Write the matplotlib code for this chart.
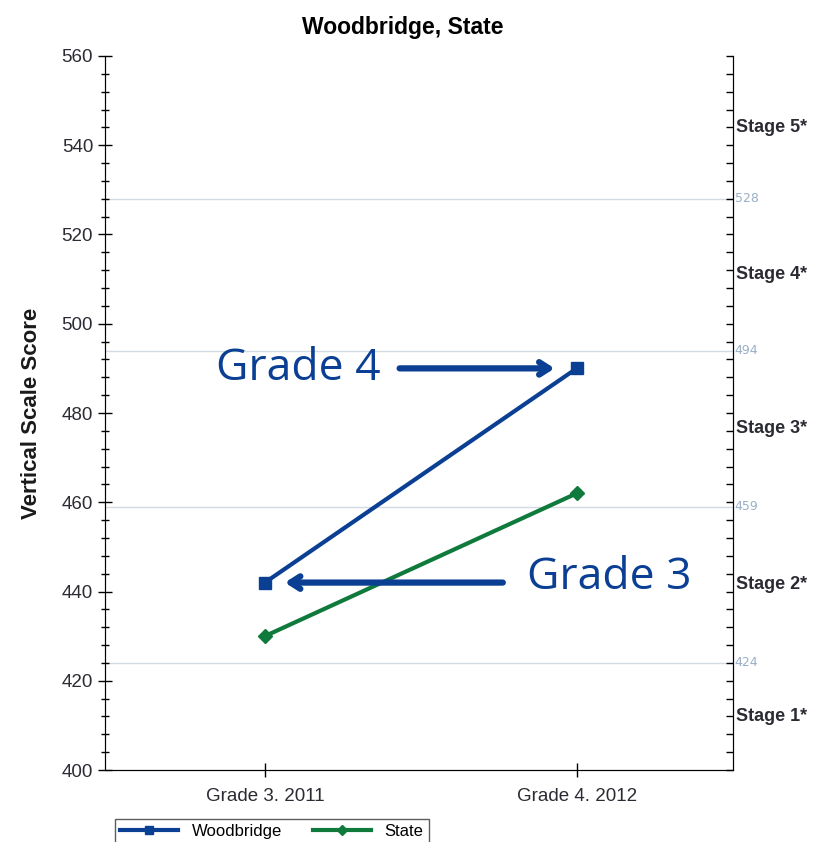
import matplotlib
matplotlib.use("Agg")
import matplotlib.pyplot as plt
from matplotlib.ticker import MultipleLocator
from matplotlib.lines import Line2D

categories = ["Grade 3. 2011", "Grade 4. 2012"]
woodbridge = [442, 490]
state = [430, 462]
cut_scores = [424, 459, 494, 528]
stage_labels = ["Stage 1*", "Stage 2*", "Stage 3*", "Stage 4*", "Stage 5*"]
stage_bounds = [400, 424, 459, 494, 528, 560]

BLUE = "#0a3f94"
GREEN = "#0f7a3c"
TXT = "#2b2b33"
FONT = "Liberation Sans"

fig = plt.figure(figsize=(8.26, 8.42), dpi=100)
ax = fig.add_axes([0.127, 0.0855, 0.76, 0.848])

x = list(range(len(categories)))
ax.plot(x, woodbridge, color=BLUE, lw=3, marker="s", ms=8, label="Woodbridge", zorder=3)
ax.plot(x, state, color=GREEN, lw=3, marker="D", ms=7, label="State", zorder=3)

for c in cut_scores:
    ax.axhline(c, color="#d3dae4", lw=1, zorder=1)

ax.set_xlim(-0.513, 1.5)
ax.set_ylim(400, 560)
ax.set_xticks(x)
ax.set_xticklabels(categories, fontsize=13.5, color=TXT, family=FONT)
ax.yaxis.set_major_locator(MultipleLocator(20))
ax.yaxis.set_minor_locator(MultipleLocator(4))
ax.tick_params(axis="y", which="major", direction="inout", length=10, width=1,
               labelsize=13.5, labelcolor=TXT)
ax.tick_params(axis="y", which="minor", direction="inout", length=6, width=1)
ax.tick_params(axis="x", direction="inout", length=10, width=1, pad=8)
for lab in ax.get_yticklabels():
    lab.set_family(FONT)
ax.set_ylabel("Vertical Scale Score", fontsize=16, fontweight="bold",
              family=FONT, color="#1a1a1a", labelpad=14)
ax.set_title("Woodbridge, State", fontsize=16.5, fontweight="bold",
             family=FONT, pad=16, x=0.475)
ax.spines["top"].set_visible(False)
for s in ["left", "right", "bottom"]:
    ax.spines[s].set_color("#333333")

# right axis with stage labels and cut scores
ax2 = ax.twinx()
ax2.set_ylim(400, 560)
ax2.spines["top"].set_visible(False)
ax2.yaxis.set_major_locator(MultipleLocator(4))
ax2.tick_params(axis="y", direction="in", length=5, width=1, labelright=False)
for c in cut_scores:
    ax2.text(1.003, c, str(c), transform=ax2.get_yaxis_transform(), fontsize=9,
             color="#9aaec8", va="center", ha="left")
for i, lab in enumerate(stage_labels):
    mid = (stage_bounds[i] + stage_bounds[i + 1]) / 2
    ax2.text(1.006, mid, lab, transform=ax2.get_yaxis_transform(), fontsize=13,
             color=TXT, va="center", ha="left", family=FONT, fontweight="bold")

# annotations
arrow = dict(arrowstyle="->,head_length=0.7,head_width=0.45", color=BLUE, lw=4.5,
             shrinkA=0, shrinkB=0)
ax.annotate("", xy=(0.929, 490), xytext=(0.432, 490), arrowprops=arrow)
ax.text(0.37, 490, "Grade 4", fontsize=32, color=BLUE, ha="right", va="center",
        family="Open Sans")
ax.annotate("", xy=(0.064, 442), xytext=(0.763, 442), arrowprops=arrow)
ax.text(0.84, 443, "Grade 3", fontsize=32, color=BLUE, ha="left", va="center",
        family="Open Sans")

handles = [Line2D([0], [0], color=BLUE, lw=3, marker="s", ms=6),
           Line2D([0], [0], color=GREEN, lw=3, marker="D", ms=5)]
fig.legend(handles, ["Woodbridge", "State"], loc="lower left",
           bbox_to_anchor=(0.129, -0.012, 0.40, 0.04), mode="expand", ncol=2,
           fancybox=False, frameon=True, edgecolor="#333333", handlelength=3.5,
           borderpad=0.3, prop={"family": FONT, "size": 12})

fig.savefig("out.png", dpi=100)
